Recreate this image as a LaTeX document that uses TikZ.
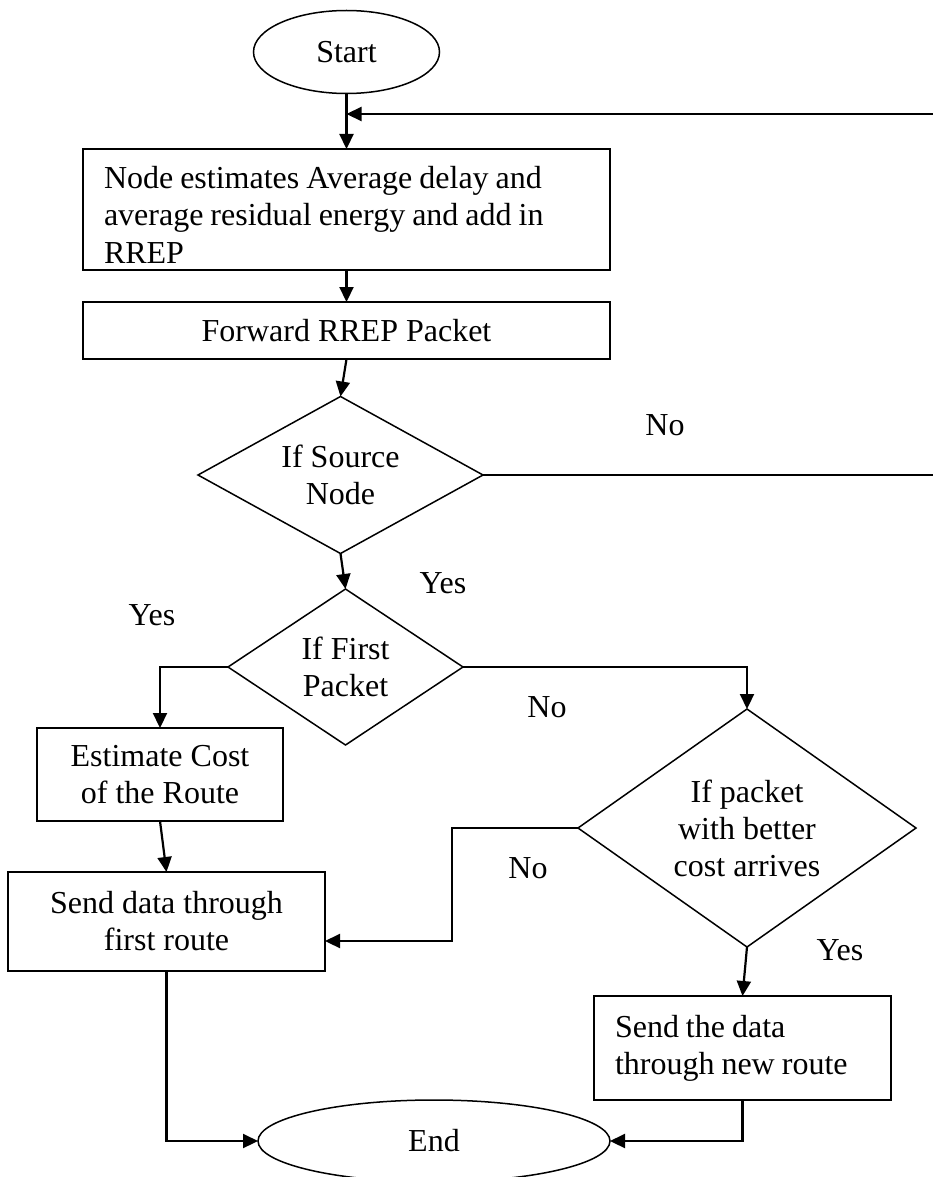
\documentclass[tikz,border=0pt]{standalone}
\usepackage{fontspec}
\setmainfont{Liberation Serif}
\usetikzlibrary{shapes.geometric,arrows.meta}
\begin{document}
\begin{tikzpicture}[x=1pt,y=-1pt]
\tikzset{
 base/.style={font=\fontsize{32}{37}\selectfont, inner sep=0pt, outer sep=0pt},
 term/.style={base, draw, ellipse, line width=1.5pt},
 proc/.style={base, draw, rectangle, line width=2pt, align=center},
 procl/.style={base, draw, rectangle, line width=2pt, align=left, inner xsep=21pt},
 decide/.style={base, draw, diamond, line width=1.5pt, align=center},
 lbl/.style={base},
 arr/.style={line width=2.2pt, -{Triangle[length=15pt,width=14pt]}},
}
\clip (0,0) rectangle (933,1177);
\fill[white] (0,0) rectangle (933,1177);

% shapes
\node[term, minimum width=186pt, minimum height=83pt] (start) at (346.5,52) {Start};
\node[procl, minimum width=527pt, minimum height=121pt, text width=485pt, text height=33pt] (b1) at (346.5,209.5)
  {\spaceskip=7pt Node estimates Average delay and\\average residual energy and add in\\RREP};
\node[proc, minimum width=527pt, minimum height=57pt] (b2) at (346.5,330.5) {Forward RREP Packet};
\node[decide, minimum width=285pt, minimum height=157pt, shape aspect=1.8] (d1) at (340.5,475) {If Source\\Node};
\node[decide, minimum width=235pt, minimum height=156pt, shape aspect=1.5] (d2) at (345.5,667) {If First\\Packet};
\node[decide, minimum width=338pt, minimum height=238pt, shape aspect=1.42] (d3) at (747,828) {If packet\\with better\\cost arrives};
\node[proc, minimum width=246pt, minimum height=93pt] (b3) at (160,774.5) {Estimate Cost\\of the Route};
\node[proc, minimum width=317pt, minimum height=99pt] (b4) at (166.5,921.5) {Send data through\\first route};
\node[procl, minimum width=297pt, minimum height=104pt, text width=255pt] (b5) at (742.5,1048) {\spaceskip=7pt Send the data\\through new route};
\node[term, minimum width=352pt, minimum height=82pt] (end) at (434,1141) {End};

% labels
\node[lbl] (l1) at (665,425) {No};
\node[lbl] (l2) at (443,583) {Yes};
\node[lbl] (l3) at (152,615) {Yes};
\node[lbl] (l4) at (547,707) {No};
\node[lbl] (l5) at (528,868) {No};
\node[lbl] (l6) at (840,950) {Yes};

% helper coordinates
\coordinate (jn) at (346.5,114);
\path (b4.east) ++(0,19.5) coordinate (b4in);

% connectors
\draw[arr] (start.south) -- (b1.north);
\draw[arr] (d1.east) -- ++(462,0) |- (jn);
\draw[arr] (b1.south) -- (b2.north);
\draw[arr] (b2.south) -- (d1.north);
\draw[arr] (d1.south) -- (d2.north);
\draw[arr] (d2.west) -| (b3.north);
\draw[arr] (d2.east) -| (d3.north);
\draw[arr] (b3.south) -- (b4.north);
\draw[arr] (d3.west) -- ++(-126,0) |- (b4in);
\draw[arr] (d3.south) -- (b5.north);
\draw[arr] (b4.south) |- (end.west);
\draw[arr] (b5.south) |- (end.east);
\end{tikzpicture}
\end{document}
